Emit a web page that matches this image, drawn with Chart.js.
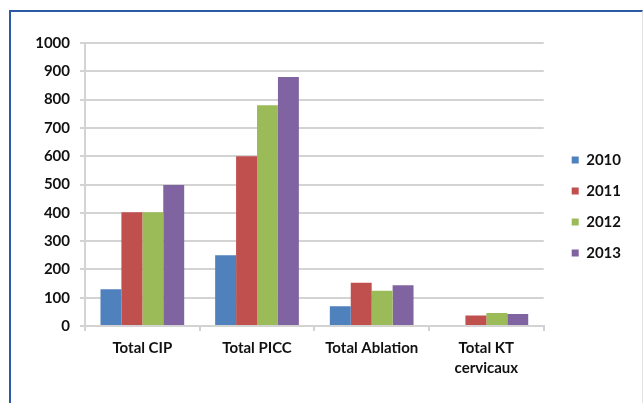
<!DOCTYPE html>
<html>
<head>
<meta charset="utf-8">
<script src="https://cdn.jsdelivr.net/npm/chart.js@4/dist/chart.umd.min.js"></script>
<style>
  html, body { margin: 0; padding: 0; background: #ffffff; }
  body { width: 643px; height: 403px; position: relative; overflow: hidden; }
  #frame {
    position: absolute; left: 9px; top: 10px; width: 634px; height: 400px;
    border-left: 2px solid #2c5aa6; border-top: 2px solid #2c5aa6;
    border-right: 1px solid #e2e2e2;
    box-sizing: border-box;
  }
  #chart { position: absolute; left: 0; top: 0; }
</style>
</head>
<body>
<div id="frame"></div>
<canvas id="chart" width="643" height="403"></canvas>
<script>
// Procedures per year, by catheter type
const categories = ['Total CIP', 'Total PICC', 'Total Ablation', ['Total KT', 'cervicaux']];
const years = ['2010', '2011', '2012', '2013'];
const values2010 = [130, 250, 70, 0];
const values2011 = [402, 600, 153, 37];
const values2012 = [402, 780, 125, 46];
const values2013 = [498, 880, 144, 42];
const yTicks = [0, 100, 200, 300, 400, 500, 600, 700, 800, 900, 1000];

const colors = ['#4f81bd', '#c0504d', '#9bbb59', '#8064a2'];
const series = [values2010, values2011, values2012, values2013];

const gridGrey = '#d3d3d3';
const textFont = { family: 'Lato', size: 15, weight: 'bold', lineHeight: 1.33 };

// empty spacer axis of a fixed thickness
const spacer = (position, size) => ({
  type: 'linear',
  position,
  afterFit: (axis) => {
    if (axis.isHorizontal()) axis.height = size; else axis.width = size;
  },
  grid: { display: false },
  border: { display: false },
  ticks: { display: false }
});

new Chart(document.getElementById('chart'), {
  type: 'bar',
  data: {
    labels: categories,
    datasets: years.map((y, i) => ({
      label: y,
      data: series[i],
      backgroundColor: colors[i],
      borderWidth: 0,
      categoryPercentage: 0.73,
      barPercentage: 1.0
    }))
  },
  options: {
    responsive: false,
    animation: false,
    devicePixelRatio: 1,
    layout: { padding: { left: 33, top: 33, right: 12, bottom: 23 } },
    plugins: {
      tooltip: { enabled: false },
      legend: {
        position: 'right',
        align: 'center',
        labels: {
          boxWidth: 7,
          boxHeight: 7,
          padding: 16,
          color: '#111',
          font: { family: 'Lato', size: 15, weight: 'bold' }
        }
      }
    },
    scales: {
      x: {
        afterFit: (axis) => { axis.height = 54; },
        grid: {
          display: true,
          offset: true,
          drawOnChartArea: false,
          drawTicks: true,
          tickLength: 5,
          color: gridGrey,
          lineWidth: 2
        },
        border: { color: gridGrey, width: 2 },
        ticks: { color: '#111', font: textFont, padding: 7, maxRotation: 0 }
      },
      y: {
        min: 0,
        max: 1000,
        afterBuildTicks: (axis) => { axis.ticks = yTicks.map(v => ({ value: v })); },
        afterFit: (axis) => { axis.width = 52; },
        grid: { color: gridGrey, lineWidth: 2, tickLength: 5 },
        border: { color: gridGrey, width: 2 },
        ticks: { color: '#111', font: textFont, padding: 10, callback: (v) => String(v) }
      },
      topGap: spacer('top', 10),
      legendGap: spacer('right', 12)
    }
  }
});
</script>
</body>
</html>
